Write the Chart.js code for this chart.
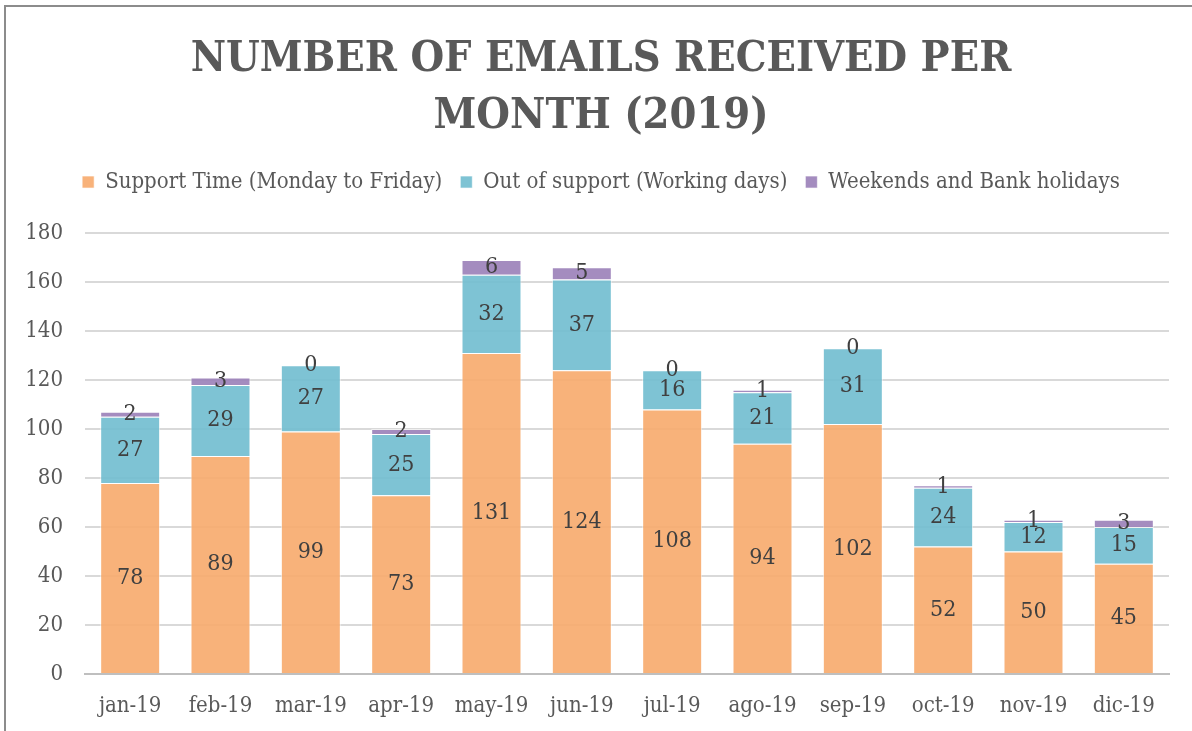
<!DOCTYPE html>
<html>
<head>
<meta charset="utf-8">
<script src="https://cdn.jsdelivr.net/npm/chart.js@4/dist/chart.umd.min.js"></script>
<style>
  html, body { margin: 0; padding: 0; background: #ffffff; }
  #wrap { width: 1192px; height: 731px; position: relative; }
</style>
</head>
<body>
<div id="wrap"><canvas id="c" width="1192" height="731"></canvas></div>
<script>
const categories = ['jan-19','feb-19','mar-19','apr-19','may-19','jun-19','jul-19','ago-19','sep-19','oct-19','nov-19','dic-19'];
const supportTime = [78, 89, 99, 73, 131, 124, 108, 94, 102, 52, 50, 45];
const outOfSupport = [27, 29, 27, 25, 32, 37, 16, 21, 31, 24, 12, 15];
const weekends = [2, 3, 0, 2, 6, 5, 0, 1, 0, 1, 1, 3];
const seriesNames = ['Support Time (Monday to Friday)', 'Out of support (Working days)', 'Weekends and Bank holidays'];
const titleLines = ['NUMBER OF EMAILS RECEIVED PER', 'MONTH (2019)'];

const SERIF = '"DejaVu Serif Condensed", "DejaVu Serif"';

const frame = {
  id: 'frame',
  beforeDraw(chart) {
    const ctx = chart.ctx;
    ctx.save();
    ctx.fillStyle = '#ffffff';
    ctx.fillRect(0, 0, chart.width, chart.height);
    ctx.strokeStyle = '#8c8c8c';
    ctx.lineWidth = 2;
    ctx.beginPath();
    ctx.moveTo(5, chart.height);
    ctx.lineTo(5, 6);
    ctx.lineTo(chart.width, 6);
    ctx.stroke();
    ctx.restore();
  }
};

const labelsPlugin = {
  id: 'valueLabels',
  afterDatasetsDraw(chart) {
    const ctx = chart.ctx;
    ctx.save();
    ctx.font = '23px ' + SERIF;
    ctx.fillStyle = '#404040';
    ctx.textAlign = 'center';
    ctx.textBaseline = 'middle';
    chart.data.datasets.forEach((ds, di) => {
      const meta = chart.getDatasetMeta(di);
      meta.data.forEach((el, i) => {
        const v = ds.data[i];
        const y = (el.y + el.base) / 2;
        ctx.fillText(String(v), el.x, y);
      });
    });
    ctx.restore();
  }
};

new Chart(document.getElementById('c'), {
  type: 'bar',
  data: {
    labels: categories,
    datasets: [
      { label: seriesNames[0], data: supportTime, backgroundColor: 'rgba(247,170,108,0.9)', borderColor: 'rgba(255,255,255,0.6)', borderWidth: 1 },
      { label: seriesNames[1], data: outOfSupport, backgroundColor: 'rgba(112,188,207,0.9)', borderColor: 'rgba(255,255,255,0.6)', borderWidth: 1 },
      { label: seriesNames[2], data: weekends, backgroundColor: 'rgba(154,128,184,0.9)', borderColor: 'rgba(255,255,255,0.6)', borderWidth: 1 }
    ]
  },
  options: {
    responsive: false,
    animation: false,
    devicePixelRatio: 1,
    layout: { padding: { left: 0, right: -10, top: 31, bottom: 0 } },
    datasets: { bar: { categoryPercentage: 1.0, barPercentage: 0.664 } },
    plugins: {
      title: {
        display: true,
        text: titleLines,
        color: '#595959',
        font: { family: SERIF, size: 43, weight: 'bold', lineHeight: 1.326 },
        padding: { top: 0, bottom: 8 }
      },
      subtitle: {
        display: true,
        text: '',
        weight: 500,
        font: { size: 1, lineHeight: 1 },
        padding: { top: 0, bottom: 29 }
      },
      legend: {
        display: true,
        position: 'top',
        labels: {
          color: '#595959',
          font: { family: SERIF, size: 22 },
          boxWidth: 12,
          boxHeight: 12,
          padding: 18
        }
      },
      tooltip: { enabled: false }
    },
    scales: {
      x: {
        stacked: true,
        afterFit(scale) { scale.height = 57; },
        grid: { display: false, drawTicks: false },
        border: { color: '#bfbfbf', width: 2 },
        ticks: { color: '#595959', font: { family: SERIF, size: 22 }, padding: 19, maxRotation: 0 }
      },
      y: {
        stacked: true,
        min: 0,
        max: 180,
        afterFit(scale) { scale.width = 85; },
        grid: { color: '#d9d9d9', lineWidth: 2, drawTicks: false },
        border: { display: false },
        ticks: { stepSize: 20, color: '#595959', font: { family: SERIF, size: 22 }, padding: 22 }
      },
      yRight: {
        position: 'right',
        display: true,
        min: 0,
        max: 180,
        afterFit(scale) { scale.width = 33; },
        grid: { display: false, drawTicks: false },
        border: { display: false },
        ticks: { display: false }
      }
    }
  },
  plugins: [frame, labelsPlugin]
});
</script>
</body>
</html>
